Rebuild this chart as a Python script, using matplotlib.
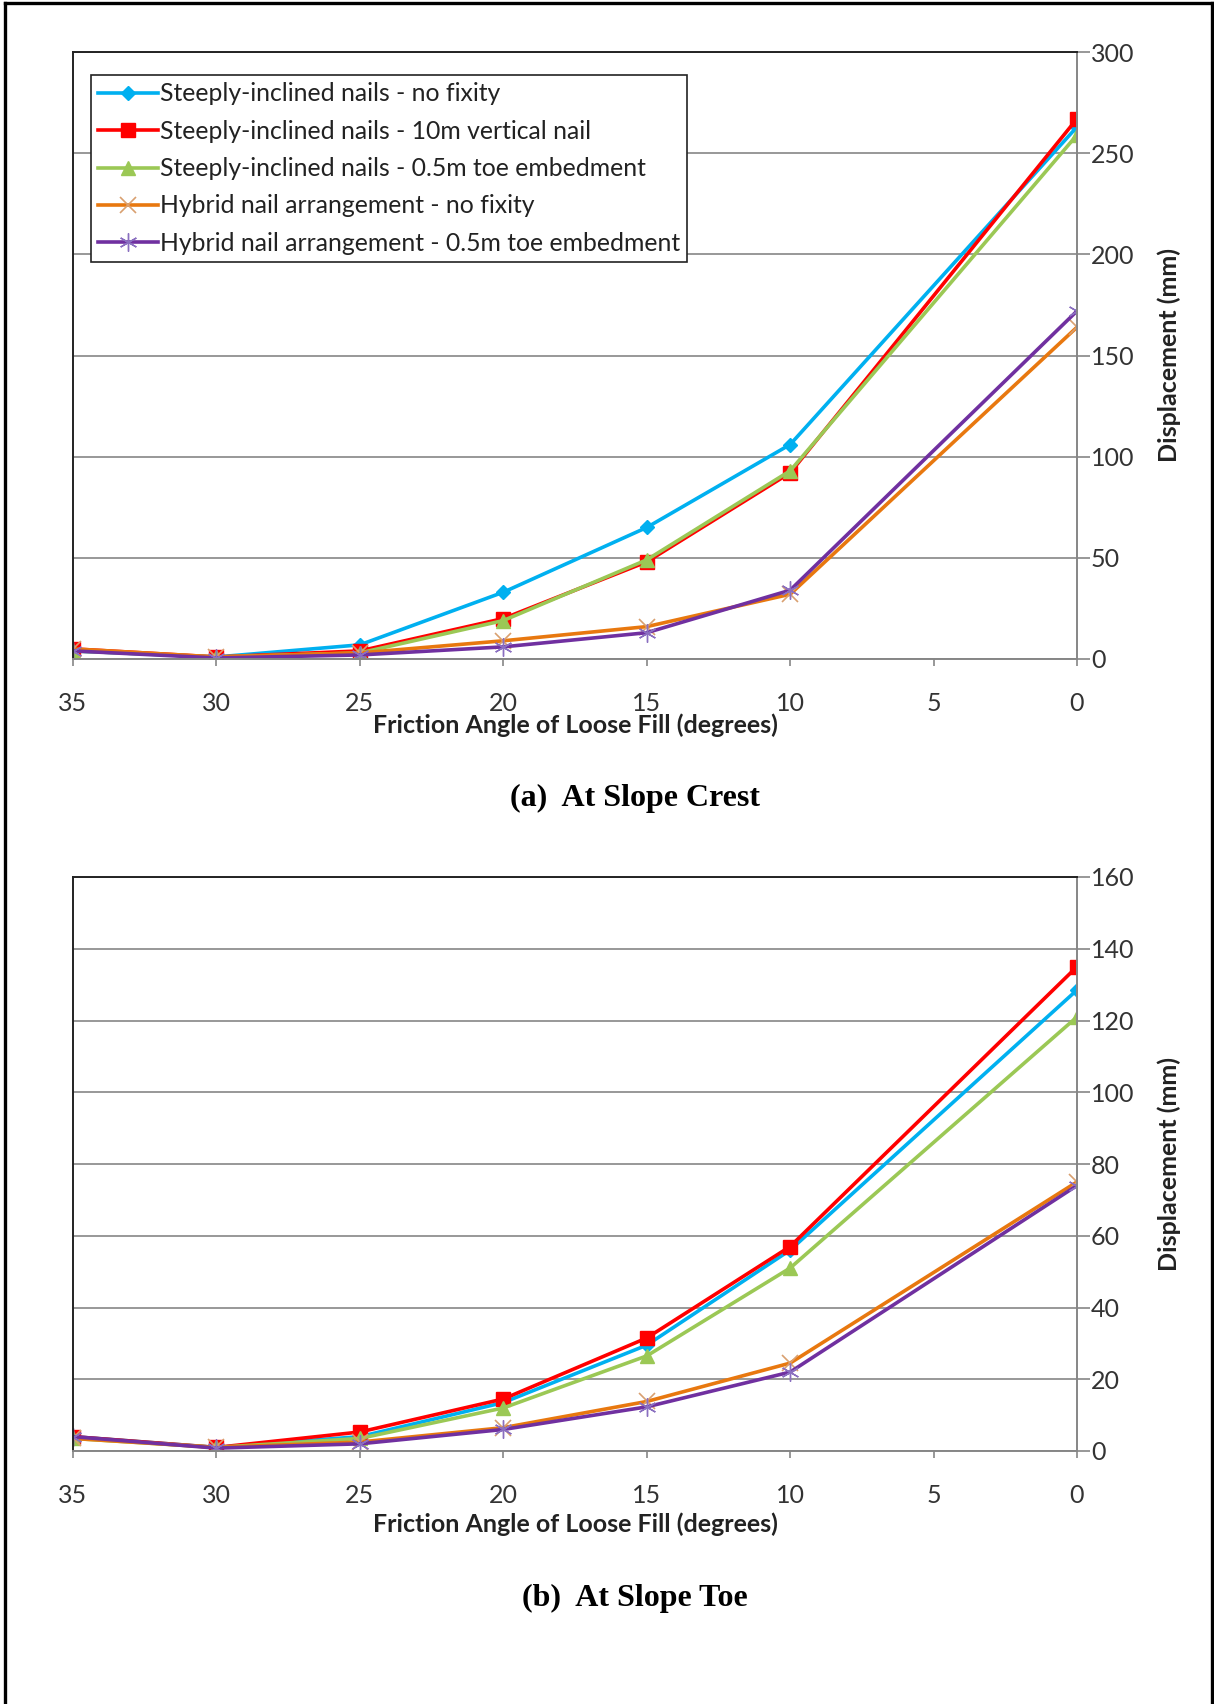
import matplotlib

matplotlib.use("Agg")
import matplotlib.pyplot as plt
from matplotlib.lines import Line2D

plt.rcParams["font.family"] = ["Lato", "DejaVu Sans"]

# friction angle of loose fill (degrees)
angle = [35, 30, 25, 20, 15, 10, 0]

SERIES_LABELS = [
    "Steeply-inclined nails - no fixity",
    "Steeply-inclined nails - 10m vertical nail",
    "Steeply-inclined nails - 0.5m toe embedment",
    "Hybrid nail arrangement - no fixity",
    "Hybrid nail arrangement - 0.5m toe embedment",
]

# (a) displacement at slope crest (mm)
crest_steep_nofix = [4, 1, 7, 33, 65, 106, 263]
crest_steep_vert = [5, 1, 4, 20, 48, 92, 267]
crest_steep_toe = [4, 1, 3, 19, 49, 93, 259]
crest_hybrid_nofix = [5, 1, 3, 9, 16, 32, 164]
crest_hybrid_toe = [4, 0.5, 2, 6, 13, 34, 172]

# (b) displacement at slope toe (mm)
toe_steep_nofix = [4, 1, 4, 13.5, 29.5, 56, 128.5]
toe_steep_vert = [4, 1, 5.3, 14.5, 31.5, 57, 135]
toe_steep_toe = [3.5, 1, 3.5, 12, 26.5, 51, 121]
toe_hybrid_nofix = [3.5, 1, 2.5, 6.5, 13.8, 24.5, 75]
toe_hybrid_toe = [4, 0.8, 2, 6, 12.3, 22, 74]

STYLES = [
    dict(color="#00B0F0", marker="D", markersize=7),
    dict(color="#FF0000", marker="s", markersize=10),
    dict(color="#9BC855", marker="^", markersize=10),
    dict(color="#E8780F", marker="x", markersize=11, markeredgewidth=1.2,
         markeredgecolor="#D9A070"),
    dict(color="#7030A0", marker=(6, 2, 0), markersize=13, markeredgewidth=1.0,
         markeredgecolor="#8A6FC0"),
]

W, H = 1214, 1704
fig = plt.figure(figsize=(W / 100, H / 100), dpi=100)


def px_axes(left, top, right, bottom):
    return fig.add_axes([left / W, 1 - bottom / H, (right - left) / W, (bottom - top) / H])


def draw_panel(ax, data, ymax, ystep, xlabel_y, with_legend):
    for vals, label, st in zip(data, SERIES_LABELS, STYLES):
        ax.plot(angle, vals, label=label, linewidth=2.6, **st)
    ax.set_xlim(35, 0)
    ax.set_ylim(0, ymax)
    ax.set_xticks(range(0, 36, 5))
    ax.set_yticks(range(0, ymax + 1, ystep))
    ax.yaxis.tick_right()
    ax.yaxis.set_label_position("right")
    ax.grid(True, axis="y", color="#868686", linewidth=1.2)
    ax.set_axisbelow(True)
    ax.tick_params(axis="x", direction="out", length=5, width=1.2, color="#868686",
                   pad=19, labelsize=18, labelcolor="#333333")
    ax.tick_params(axis="y", direction="out", length=9, width=1.2, color="#868686",
                   pad=1, labelsize=18, labelcolor="#333333")
    for side in ("left", "top"):
        ax.spines[side].set_color("#222222")
        ax.spines[side].set_linewidth(1.4)
    for side in ("right", "bottom"):
        ax.spines[side].set_color("#868686")
        ax.spines[side].set_linewidth(1.4)
    ax.set_xlabel("Friction Angle of Loose Fill (degrees)", fontsize=18,
                  fontweight="bold", color="#222222")
    ax.xaxis.set_label_coords(0.5, xlabel_y)
    ax.set_ylabel("Displacement (mm)", fontsize=18, fontweight="bold", color="#222222")
    ax.yaxis.set_label_coords(1.080, 0.5)
    if with_legend:
        leg = ax.legend(loc="upper left", bbox_to_anchor=(0.018, 0.962), fontsize=17.8,
                        frameon=True, fancybox=False, edgecolor="#222222",
                        handlelength=2.4, handletextpad=0.08, labelspacing=0.58,
                        borderpad=0.3, borderaxespad=0.0, framealpha=1.0)
        leg.get_frame().set_linewidth(1.2)
        for t in leg.get_texts():
            t.set_color("#222222")


ax_a = px_axes(73, 52, 1077, 659)
draw_panel(ax_a, [crest_steep_nofix, crest_steep_vert, crest_steep_toe,
                  crest_hybrid_nofix, crest_hybrid_toe], 300, 50, -0.090, True)

ax_b = px_axes(73, 877, 1077, 1451)
draw_panel(ax_b, [toe_steep_nofix, toe_steep_vert, toe_steep_toe,
                  toe_hybrid_nofix, toe_hybrid_toe], 160, 20, -0.107, False)

fig.text(635 / W, 1 - 798 / H, "(a)  At Slope Crest", ha="center", va="center",
         family="Liberation Serif", fontweight="bold", fontsize=23)
fig.text(635 / W, 1 - 1598 / H, "(b)  At Slope Toe", ha="center", va="center",
         family="Liberation Serif", fontweight="bold", fontsize=23)

# page frame (left, top, right)
for xs, ys in [([5 / W, 5 / W], [0, 1 - 3 / H]),
               ([5 / W, 1212 / W], [1 - 3 / H, 1 - 3 / H]),
               ([1212 / W, 1212 / W], [0, 1 - 3 / H])]:
    fig.add_artist(Line2D(xs, ys, color="black", linewidth=2.4))

fig.savefig("out.png", dpi=100, facecolor="white")
